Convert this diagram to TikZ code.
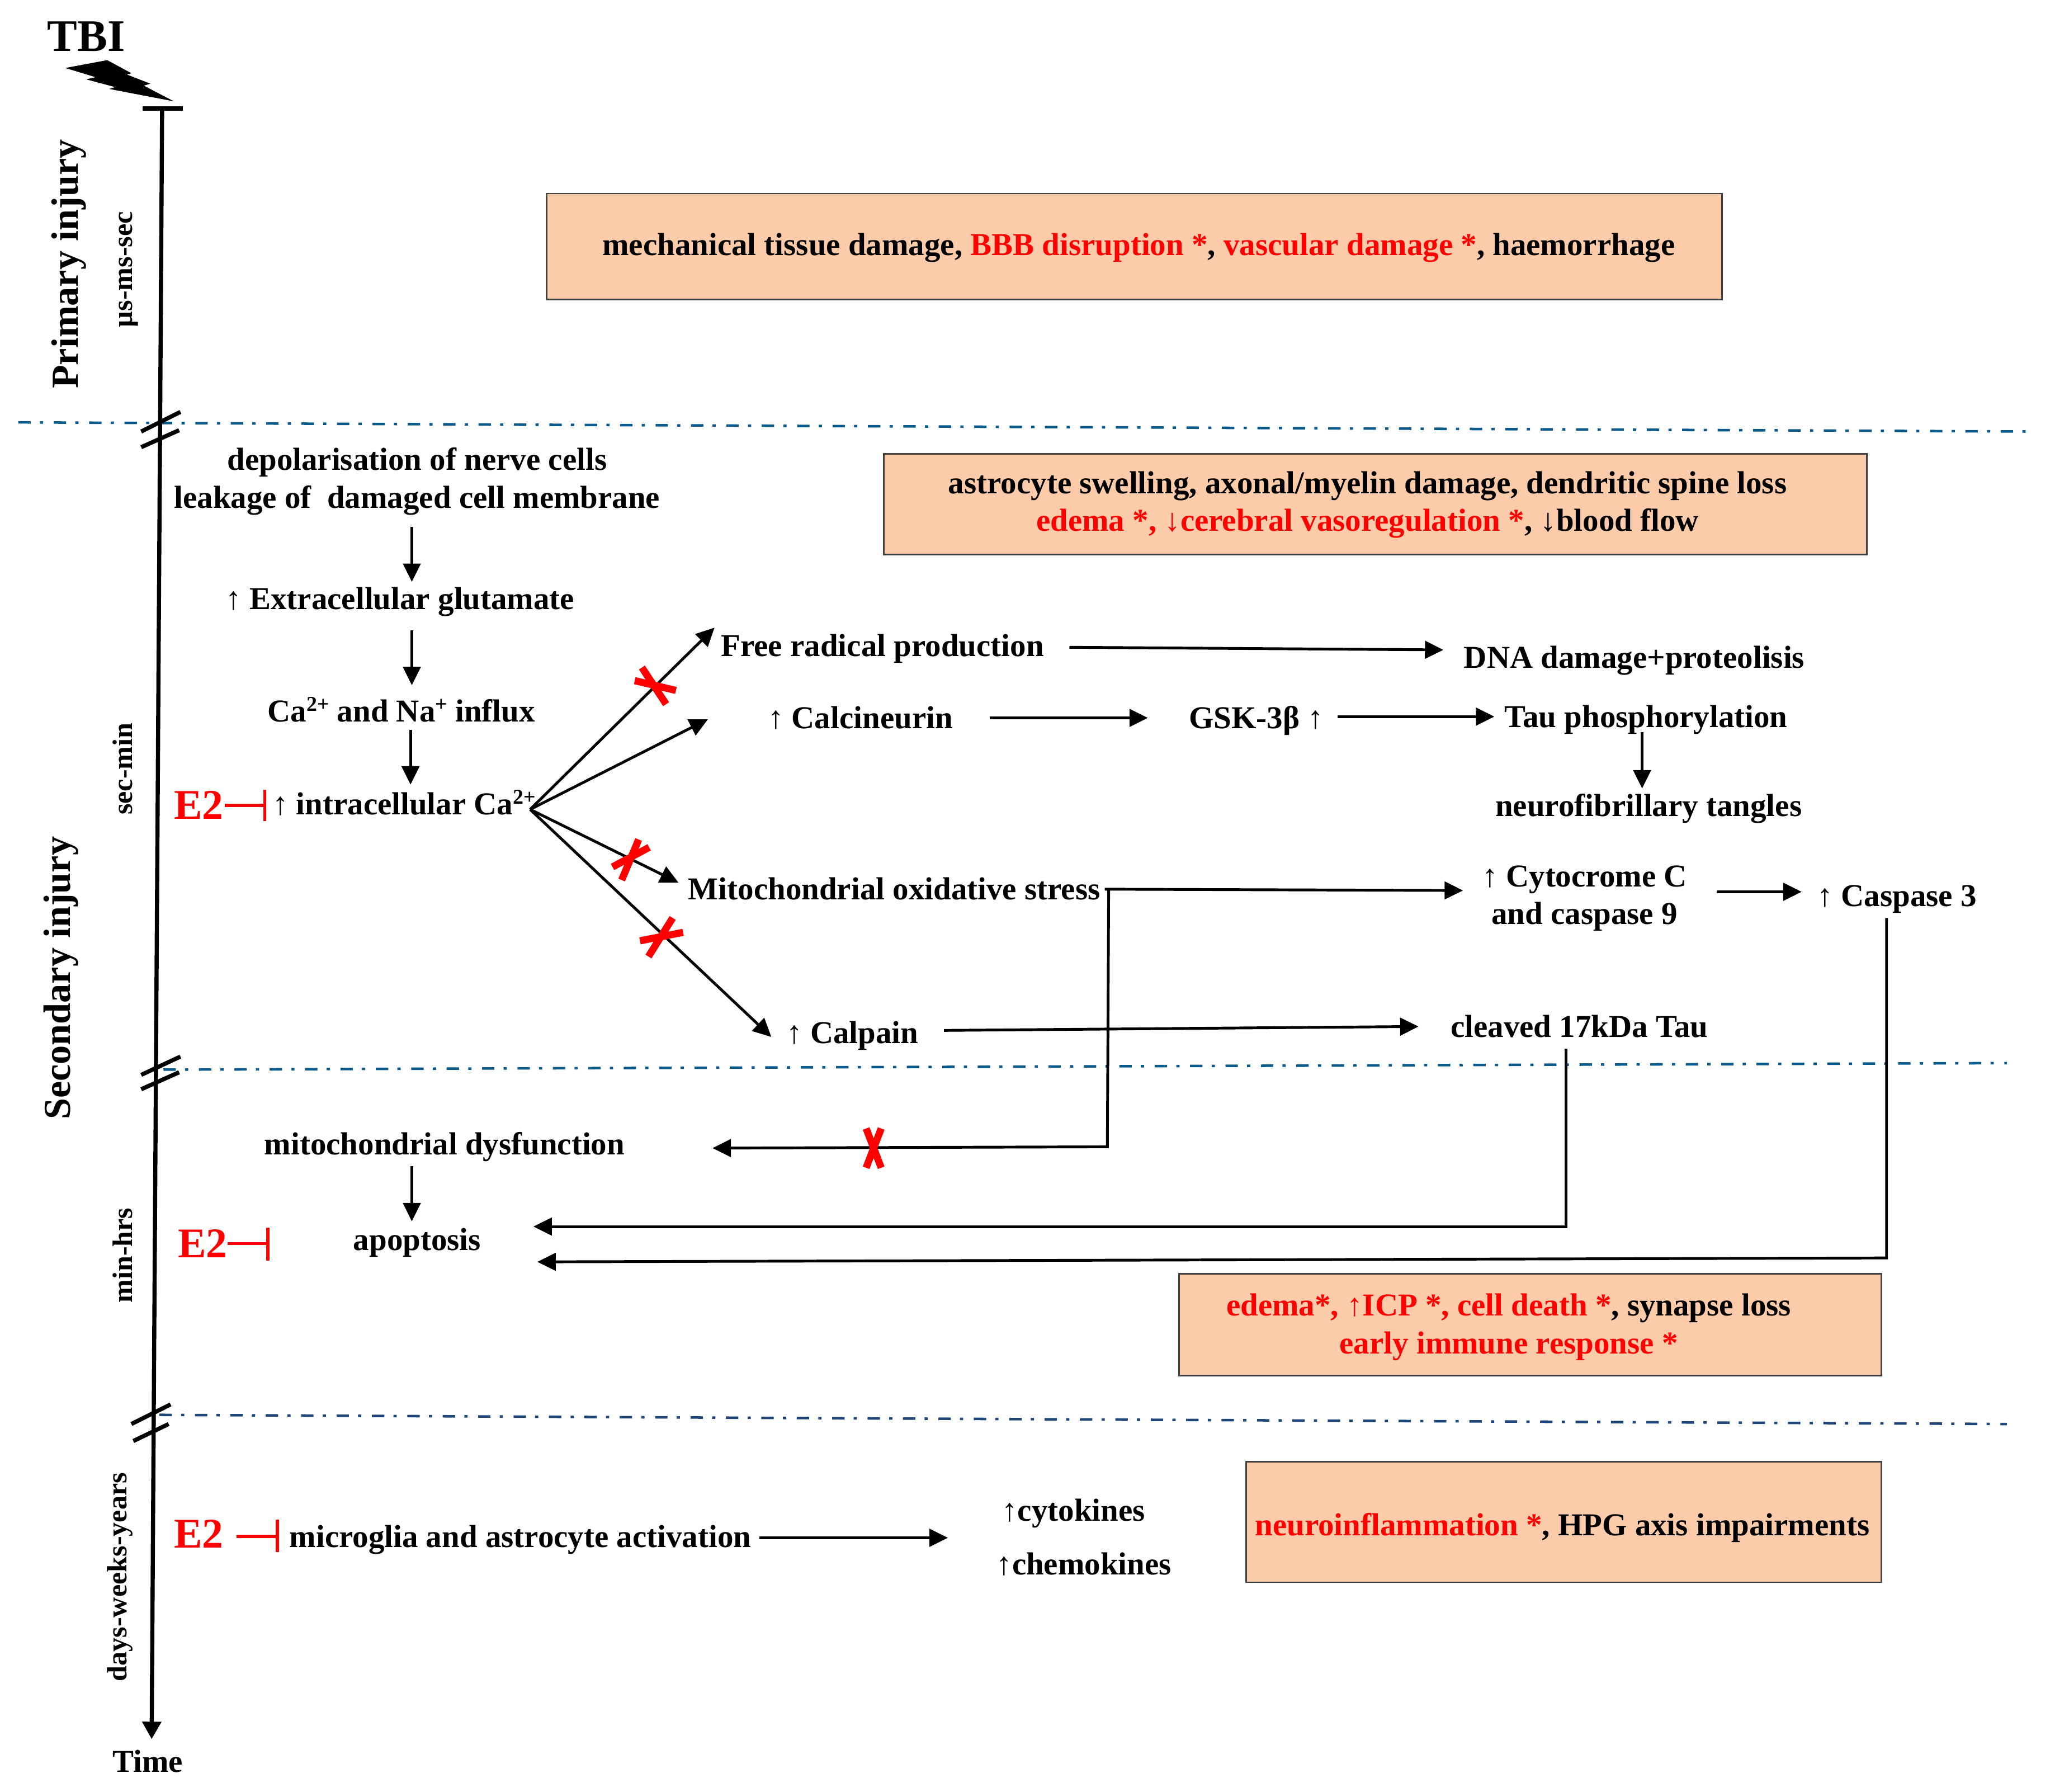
\documentclass[tikz,border=0pt]{standalone}
\usepackage{fontspec}
\setmainfont{Liberation Serif}
\usetikzlibrary{arrows.meta,calc}
\definecolor{rd}{RGB}{255,0,0}
\definecolor{peach}{RGB}{252,204,170}
\definecolor{dashA}{RGB}{10,90,140}
\definecolor{dashB}{RGB}{30,70,120}
\newcommand{\rt}[1]{\textcolor{rd}{#1}}
\newcommand{\sups}[1]{\raisebox{2.3pt}{\fontsize{4.6}{5}\selectfont #1}}
\tikzset{
  x=0.01cm,y=-0.01cm,
  t/.style={font=\fontsize{6.93}{8.25}\selectfont\bfseries,inner sep=0,text height=4.6pt,text depth=0pt},
  tt/.style={font=\fontsize{6.93}{8.25}\selectfont\bfseries,inner sep=0,align=center},
  rot/.style={font=\fontsize{6.1}{7}\selectfont\bfseries,inner sep=0,rotate=90,text height=4pt,text depth=0pt},
  big/.style={font=\fontsize{8.3}{10}\selectfont\bfseries,inner sep=0,rotate=90,text height=5.5pt,text depth=0pt},
  etwo/.style={font=\fontsize{9.2}{10}\selectfont\bfseries,text=rd,inner sep=0,text height=6pt,text depth=0pt},
  peachbox/.style={draw=black!75,fill=peach,line width=0.35pt,inner sep=0},
  arr/.style={line width=0.6pt,-{Triangle[length=4pt,width=3.8pt]}},
  axisline/.style={line width=0.9pt,-{Triangle[length=3.8pt,width=4pt]}},
  brk/.style={line width=0.9pt},
  block/.style={line width=0.7pt,draw=rd},
  xmark/.style={line width=1.55pt,draw=rd},
  dashdotA/.style={line width=0.55pt,draw=dashA,dash pattern=on 2.7pt off 2pt on 0.7pt off 2.3pt},
  dashdotB/.style={line width=0.55pt,draw=dashB,dash pattern=on 2.7pt off 2pt on 0.7pt off 2.3pt},
}
\begin{document}
\begin{tikzpicture}
\useasboundingbox (0,0) rectangle (1568,1370);

% boxes
\draw[peachbox] (418,148) rectangle (1317,229);
\draw[peachbox] (676,347) rectangle (1428,424);
\draw[peachbox] (902,974) rectangle (1439,1052);
\draw[peachbox] (953,1118) rectangle (1439,1210);

% dash-dot separators
\coordinate (s1a) at (14,323); \coordinate (s1b) at (1552,330);
\coordinate (s2a) at (125,818); \coordinate (s2b) at (1535,813);
\coordinate (s3a) at (122,1082); \coordinate (s3b) at (1535,1089);
\draw[dashdotA] (s1a) -- (s1b);
\draw[dashdotA] (s2a) -- (s2b);
\draw[dashdotB] (s3a) -- (s3b);

% time axis
\coordinate (axtop) at (124,83);
\coordinate (axbot) at (116,1330);
\coordinate (barl) at (109,83); \coordinate (barr) at (140,83);
\draw[axisline] (axtop) -- (axbot);
\draw[brk] (barl) -- (barr);
\draw[brk] (108,330) -- (138,315);
\draw[brk] (108,342) -- (137,329);
\draw[brk] (108,822) -- (138,808);
\draw[brk] (108,833) -- (137,820);
\draw[brk] (100.5,1089) -- (130.5,1074);
\draw[brk] (102,1102) -- (129,1089);

% TBI and lightning
\node[font=\fontsize{9.8}{12}\selectfont\bfseries,inner sep=0] (tbi) at (66,28) {TBI};
\fill[black] (50,52) -- (82,46) -- (100.5,56) -- (97,57) -- (115,64) -- (110,65.5) -- (133,77.5) -- (83.5,68) -- (88,66.6) -- (66,60.7) -- (73,59) -- cycle;

% side labels
\node[big] (prim) at (50,202) {Primary injury};
\node[big] (sec) at (44,748) {Secondary injury};
\node[rot] (t1) at (94,206) {µs-ms-sec};
\node[rot] (t2) at (94,588) {sec-min};
\node[rot] (t3) at (94,960) {min-hrs};
\node[rot] (t4) at (90,1206) {days-weeks-years};
\node[t] (time) at (113,1347) {Time};

% box texts
\node[t] (b1) at (871,187) {mechanical tissue damage, \rt{BBB disruption *}, \rt{vascular damage *}, haemorrhage};
\node[tt] (b2) at (1046,386) {astrocyte swelling, axonal/myelin damage, dendritic spine loss\\ \rt{edema *, ↓cerebral vasoregulation *}, ↓blood flow};
\node[tt] (b3) at (1154,1015) {\rt{edema*, ↑ICP *, cell death *}, synapse loss\\ \rt{early immune response *}};
\node[t] (b4) at (1195,1166) {\rt{neuroinflammation *}, HPG axis impairments};

% pathway texts
\node[tt] (dep) at (319,368) {depolarisation of nerve cells\\leakage of\ \ damaged cell membrane};
\node[t] (glu) at (306,458) {↑ Extracellular glutamate};
\node[t] (inf) at (307,544) {Ca\sups{2+} and Na\sups{+} influx};
\node[t] (intra) at (309,615) {↑ intracellular Ca\sups{2+}};
\node[etwo] (e1) at (152,616) {E2};
\node[etwo] (e2) at (155,951) {E2};
\node[etwo] (e3) at (152,1173) {E2};
\node[t] (free) at (675,494) {Free radical production};
\node[t] (calc) at (658,549) {↑ Calcineurin};
\node[t] (gsk) at (961,549) {GSK-3β ↑};
\node[t] (tau) at (1259,548) {Tau phosphorylation};
\node[t] (dna) at (1250,503) {DNA damage+proteolisis};
\node[t] (tang) at (1261,616) {neurofibrillary tangles};
\node[t] (mito) at (684,680) {Mitochondrial oxidative stress};
\node[tt] (cyt) at (1212,687) {↑ Cytocrome C\\and caspase 9};
\node[t] (casp) at (1451,685) {↑ Caspase 3};
\node[t] (calp) at (652,790) {↑ Calpain};
\node[t] (clv) at (1208,785) {cleaved 17kDa Tau};
\node[t] (mdys) at (340,875) {mitochondrial dysfunction};
\node[t] (apo) at (319,948) {apoptosis};
\node[t] (micro) at (398,1175) {microglia and astrocyte activation};
\node[t] (cytk) at (821,1155) {↑cytokines};
\node[t] (chem) at (829,1196) {↑chemokines};

% vertical chain
\draw[arr] ([shift={(-4,35)}]dep.center) -- ([shift={(9,-13)}]glu.center);
\draw[arr] ([shift={(9,24)}]glu.center) -- ([shift={(8,-20)}]inf.center);
\draw[arr] ([shift={(7,14)}]inf.center) -- ([shift={(5,-15)}]intra.center);
\draw[arr] ([shift={(-25,17)}]mdys.center) -- ([shift={(-4,-14)}]apo.center);

% fan from intracellular Ca
\coordinate (fan) at (405.5,619);
\coordinate (fanA) at (546.5,480);
\coordinate (fanB) at (541.5,550);
\coordinate (fanC) at (519,675);
\coordinate (fanD) at (590,793);
\draw[arr] (fan) -- (fanA);
\draw[arr] (fan) -- (fanB);
\draw[arr] (fan) -- (fanC);
\draw[arr] (fan) -- (fanD);

% horizontal chains
\draw[arr] ([shift={(143,1)}]free.center) -- ([shift={(-146,-6)}]dna.center);
\draw[arr] ([shift={(99,0)}]calc.center) -- ([shift={(-83,0)}]gsk.center);
\draw[arr] ([shift={(62,-1)}]gsk.center) -- ([shift={(-116,0)}]tau.center);
\draw[arr] ([shift={(-3,12)}]tau.center) -- ([shift={(-5,-13)}]tang.center);
\draw[arr] ([shift={(161,0)}]mito.center) -- ([shift={(-93,-6)}]cyt.center);
\draw[arr] ([shift={(101,-5)}]cyt.center) -- ([shift={(-73,-3)}]casp.center);
\draw[arr] ([shift={(70,-2)}]calp.center) -- ([shift={(-123,0)}]clv.center);
\draw[arr] ([shift={(183,1)}]micro.center) -- ([shift={(-96,21)}]cytk.center);

% long elbows
\draw[arr] ([shift={(164,0)}]mito.center) -- (847,877) -- ([shift={(205,3)}]mdys.center);
\draw[arr] ([shift={(-10,17)}]clv.center) -- (1198,938) -- ([shift={(89,-10)}]apo.center);
\draw[arr] ([shift={(-8,17)}]casp.center) -- (1443,962) -- ([shift={(92,17)}]apo.center);

% inhibition marks
\draw[block] ([shift={(20,0)}]e1.center) -- ++(30,0);
\draw[block] (202.5,604) -- (202.5,628);
\draw[block] ([shift={(19,0)}]e2.center) -- ++(31,0);
\draw[block] (205,939) -- (205,964);
\draw[block] ([shift={(29,2)}]e3.center) -- ++(31,0);
\draw[block] (212,1162) -- (212,1187);

% red crosses
\draw[xmark] (491,510.5) -- (509.5,538.5);
\draw[xmark] (485.5,520.5) -- (517,528);
\draw[xmark] (488.5,642) -- (475.5,673);
\draw[xmark] (468.5,663) -- (496.5,648);
\draw[xmark] (514.5,702) -- (496,731.5);
\draw[xmark] (489.5,719.5) -- (522.5,713);
\draw[xmark] (662.5,863) -- (674,893);
\draw[xmark] (674,863) -- (662.5,893);
\end{tikzpicture}
\end{document}
